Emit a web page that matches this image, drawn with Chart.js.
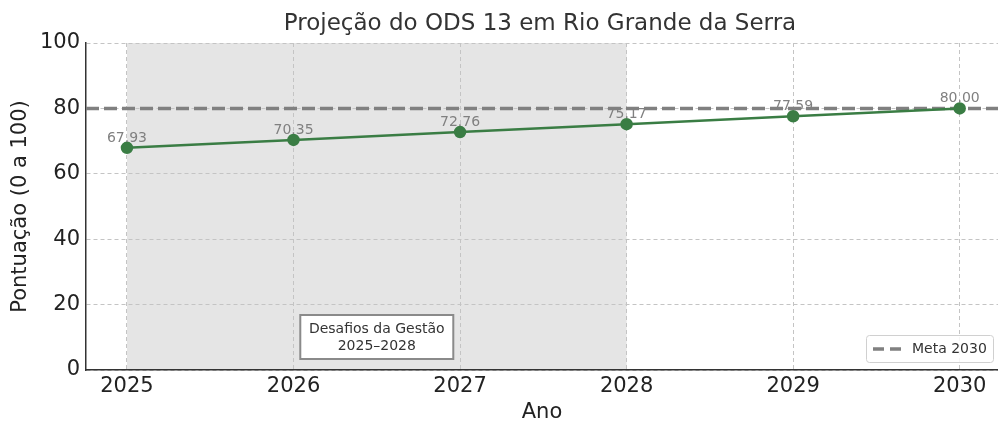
<!DOCTYPE html>
<html>
<head>
<meta charset="utf-8">
<script src="https://cdn.jsdelivr.net/npm/chart.js@4/dist/chart.umd.min.js"></script>
<style>
  html, body { margin: 0; padding: 0; background: #fff; }
  #wrap { width: 998px; height: 421px; }
</style>
</head>
<body>
<div id="wrap"><canvas id="chart"></canvas></div>
<script>
// ── Data ──────────────────────────────────────────────
const YEARS = [2025, 2026, 2027, 2028, 2029, 2030];
const SCORES = [67.93, 70.35, 72.76, 75.17, 77.59, 80.00];
const META = 80;
const META_LABEL = 'Meta 2030';
const Y_TICKS = [0, 20, 40, 60, 80, 100];
const SPAN = [2025, 2028];
const SPAN_TEXT = ['Desafios da Gestão', '2025–2028'];
const TITLE = 'Projeção do ODS 13 em Rio Grande da Serra';

const X_MIN = 2024.754;
const X_MAX = 2030.23;

const FONT = "'DejaVu Sans', sans-serif";
const GREEN = '#3a7d44';
const GRAY = '#808080';
const INK = '#222';
const META_DASH = [13, 5];

// gestão period shading, drawn beneath the grid
const spanPlugin = {
  id: 'span',
  beforeDraw(chart) {
    const { ctx, chartArea, scales } = chart;
    const x0 = scales.x.getPixelForValue(SPAN[0]);
    const x1 = scales.x.getPixelForValue(SPAN[1]);
    ctx.save();
    ctx.fillStyle = '#e5e5e5';
    ctx.fillRect(x0, chartArea.top, x1 - x0, chartArea.bottom - chartArea.top);
    ctx.restore();
  },
};

// title, point labels, text box, legend
const overlayPlugin = {
  id: 'overlay',
  afterDraw(chart) {
    const { ctx, scales } = chart;
    ctx.save();

    ctx.fillStyle = '#333';
    ctx.font = '23px ' + FONT;
    ctx.textAlign = 'center';
    ctx.textBaseline = 'middle';
    ctx.fillText(TITLE, 540, 24);

    // value labels above each point
    ctx.fillStyle = GRAY;
    ctx.font = '14px ' + FONT;
    ctx.textBaseline = 'alphabetic';
    YEARS.forEach((yr, i) => {
      const px = scales.x.getPixelForValue(yr);
      const py = scales.y.getPixelForValue(SCORES[i]);
      ctx.fillText(SCORES[i].toFixed(2), px, py - 6);
    });

    // annotation box in the middle of the period
    const mid = scales.x.getPixelForValue(2026.5);
    const bw = 153, by = 315, bh = 44;
    ctx.fillStyle = '#fff';
    ctx.fillRect(mid - bw / 2, by, bw, bh);
    ctx.strokeStyle = '#8a8a8a';
    ctx.lineWidth = 2;
    ctx.strokeRect(mid - bw / 2, by, bw, bh);
    ctx.fillStyle = '#333';
    ctx.font = '14px ' + FONT;
    ctx.textBaseline = 'middle';
    ctx.fillText(SPAN_TEXT[0], mid, by + 14);
    ctx.fillText(SPAN_TEXT[1], mid, by + 31);

    // legend
    const lx = 866, ly = 335, lw = 127, lh = 27;
    ctx.fillStyle = 'rgba(255,255,255,0.85)';
    ctx.strokeStyle = '#d0d0d0';
    ctx.lineWidth = 1;
    ctx.beginPath();
    ctx.roundRect(lx + 0.5, ly + 0.5, lw, lh, 3);
    ctx.fill();
    ctx.stroke();
    ctx.strokeStyle = GRAY;
    ctx.lineWidth = 3.5;
    ctx.setLineDash([11, 6]);
    ctx.beginPath();
    ctx.moveTo(873, ly + lh / 2 + 0.5);
    ctx.lineTo(902, ly + lh / 2 + 0.5);
    ctx.stroke();
    ctx.setLineDash([]);
    ctx.fillStyle = '#333';
    ctx.textAlign = 'left';
    ctx.fillText(META_LABEL, 912, ly + lh / 2 + 1);

    ctx.restore();
  },
};

const gridOpts = {
  color: '#c4c4c4',
  tickLength: 4,
  tickColor: 'rgba(0,0,0,0)',
};
const borderOpts = { display: true, color: '#333', width: 1.5, dash: [4, 3] };

new Chart(document.getElementById('chart'), {
  type: 'scatter',
  data: {
    datasets: [
      {
        label: META_LABEL,
        data: [{ x: X_MIN, y: META }, { x: X_MAX, y: META }],
        showLine: true,
        borderColor: GRAY,
        borderWidth: 3.5,
        borderDash: META_DASH,
        pointRadius: 0,
        order: 2,
      },
      {
        label: 'Pontuação',
        data: YEARS.map((yr, i) => ({ x: yr, y: SCORES[i] })),
        showLine: true,
        borderColor: GREEN,
        backgroundColor: GREEN,
        borderWidth: 2.5,
        pointRadius: 5,
        pointHoverRadius: 5,
        order: 1,
      },
    ],
  },
  options: {
    responsive: true,
    maintainAspectRatio: false,
    animation: false,
    layout: { autoPadding: false, padding: { top: 43, right: 0, left: 0, bottom: 0 } },
    plugins: {
      legend: { display: false },
      title: { display: false },
      tooltip: { enabled: false },
    },
    scales: {
      x: {
        type: 'linear',
        min: X_MIN,
        max: X_MAX,
        afterBuildTicks: s => { s.ticks = YEARS.map(v => ({ value: v })); },
        afterFit: s => { s.height = 51; s.paddingLeft = 0; s.paddingRight = 0; },
        grid: gridOpts,
        border: borderOpts,
        ticks: {
          color: INK,
          font: { family: FONT, size: 21 },
          padding: 0,
          maxRotation: 0,
          callback: v => String(v),
        },
        title: {
          display: true,
          text: 'Ano',
          color: INK,
          font: { family: FONT, size: 21 },
          padding: { top: 0, bottom: -4 },
        },
      },
      y: {
        min: 0,
        max: 100,
        afterBuildTicks: s => { s.ticks = Y_TICKS.map(v => ({ value: v })); },
        afterFit: s => { s.width = 86; s.paddingTop = 0; s.paddingBottom = 0; },
        grid: gridOpts,
        border: borderOpts,
        ticks: {
          color: INK,
          font: { family: FONT, size: 21 },
          padding: 2,
        },
        title: {
          display: true,
          text: 'Pontuação (0 a 100)',
          color: INK,
          font: { family: FONT, size: 21 },
          padding: { top: 8, bottom: 0 },
        },
      },
    },
  },
  plugins: [spanPlugin, overlayPlugin],
});
</script>
</body>
</html>
